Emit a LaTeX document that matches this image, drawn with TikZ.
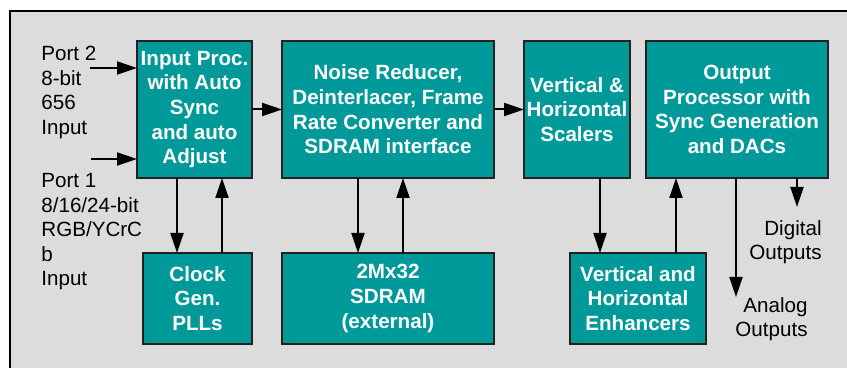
\documentclass[tikz,border=0pt]{standalone}
\usepackage{fontspec}
\setmainfont{Liberation Sans}
\usepackage{xcolor}
\usepackage{tikz}
\usetikzlibrary{arrows.meta,positioning}
\definecolor{Teal}{HTML}{009999}
\definecolor{PanelGray}{HTML}{DCDCDC}
\definecolor{EdgeGray}{HTML}{222222}

\begin{document}
\begin{tikzpicture}[x=1pt,y=1pt,
  block/.style={draw=EdgeGray,line width=1pt,fill=Teal,text=white,inner sep=0pt,outer sep=0pt,align=center,minimum height=68.5pt,font=\fontsize{10.3}{12.3}\selectfont\bfseries},
  lowblock/.style={block,minimum height=45.5pt},
  port/.style={inner sep=0pt,font=\fontsize{10.3}{12.3}\selectfont},
  arr/.style={-{Triangle[length=10pt,width=6.5pt]},line width=1pt}
]
\useasboundingbox (0,0) rectangle (423.5,-184);
\fill[PanelGray] (5,-5.5) rectangle (430,-190);
\draw[line width=1pt] (5,-190) -- (5,-5.5) -- (430,-5.5);
% top row
\node[block,minimum width=57.5pt,anchor=north west] (inp) at (68.5,-20.5) {Input Proc.\\with Auto\\Sync\\and auto\\Adjust};
\node[block,minimum width=106pt,right=15pt of inp] (nr) {Noise Reducer,\\Deinterlacer, Frame\\Rate Converter and\\SDRAM interface};
\node[block,minimum width=53pt,right=15pt of nr] (sc) {Vertical \&\\Horizontal\\Scalers};
\node[block,minimum width=91pt,right=8pt of sc] (op) {Output\\Processor with\\Sync Generation\\and DACs};
% bottom row
\node[lowblock,minimum width=54.5pt,below=37.5pt of inp.south east,anchor=north east] (clk) {Clock\\Gen.\\PLLs};
\node[lowblock,minimum width=106pt,below=37.5pt of nr] (ram) {2Mx32\\SDRAM\\(external)};
\node[lowblock,minimum width=68pt,anchor=north west] (enh) at (285,-126.5) {Vertical and\\Horizontal\\Enhancers};
% ports and outputs
\node[port,anchor=north west,align=left] (p2lbl) at (20.5,-23) {Port 2\\8-bit\\656\\Input};
\node[port,anchor=north west,align=left] (p1lbl) at (20.5,-86.5) {Port 1\\8/16/24-bit\\RGB/YCrC\\b\\Input};
\node[port,anchor=north east,align=right] (diglbl) at (411,-110) {Digital\\Outputs};
\node[port,anchor=north east,align=right] (analbl) at (404,-148.5) {Analog\\Outputs};
\coordinate (p2) at (45,-34);
\coordinate (p1) at (45.5,-79.5);
\coordinate (dig) at ([xshift=75.5pt]op.south west |- 0,-103.5);
\coordinate (ana) at ([xshift=45pt]op.south west |- 0,-148.5);
\draw[arr] (p2) -- (p2 -| inp.west);
\draw[arr] (p1) -- (p1 -| inp.west);
\draw[arr] (inp) -- (nr);
\draw[arr] (nr) -- (sc);
\draw[arr] ([xshift=20pt]inp.south west) -- ([xshift=20pt]inp.south west |- clk.north);
\draw[arr] ([xshift=-15pt]clk.north east) -- ([xshift=-15pt]clk.north east |- inp.south);
\draw[arr] ([xshift=38pt]nr.south west) -- ([xshift=38pt]nr.south west |- ram.north);
\draw[arr] ([xshift=60.5pt]ram.north west) -- ([xshift=60.5pt]ram.north west |- nr.south);
\draw[arr] ([xshift=38pt]sc.south west) -- ([xshift=38pt]sc.south west |- enh.north);
\draw[arr] ([xshift=15pt]op.south west |- enh.north) -- ([xshift=15pt]op.south west);
\draw[arr] ([xshift=45pt]op.south west) -- (ana);
\draw[arr] ([xshift=75.5pt]op.south west) -- (dig);
\end{tikzpicture}
\end{document}
